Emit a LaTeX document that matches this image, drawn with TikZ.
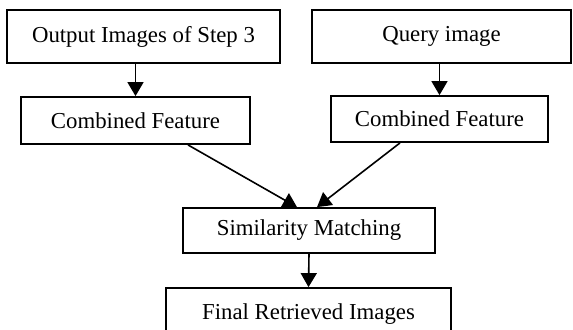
\documentclass[tikz,border=0pt]{standalone}
\usepackage{fontspec}
\setmainfont{Liberation Serif}
\usetikzlibrary{arrows.meta}
\begin{document}
\begin{tikzpicture}[x=0.5pt,y=-0.5pt,
    stepbox/.style={draw,line width=0.9pt,inner sep=0pt,align=center,
        font=\fontsize{11.4}{13}\selectfont},
    flow/.style={line width=0.8pt,-{Triangle[length=7pt,width=8pt]}}]
    % Marco
    \useasboundingbox (0,0) rectangle (573,329);
    % Cajas
    \node[stepbox,minimum width=136.5pt,minimum height=26.5pt] (out) at (143.5,36.5) {Output Images of Step 3};
    \node[stepbox,minimum width=129.5pt,minimum height=26.5pt] (query) at (441.5,36.5) {Query image};
    \node[stepbox,minimum width=114.5pt,minimum height=23.5pt] (featL) at (135.5,120.5) {Combined Feature};
    \node[stepbox,minimum width=108.5pt,minimum height=23pt] (featR) at (439.5,119) {Combined Feature};
    \node[stepbox,minimum width=126pt,minimum height=22.5pt] (match) at (309,230.5) {Similarity Matching};
    \node[stepbox,minimum width=142.5pt,minimum height=26pt] (final) at (308.5,314) {Final Retrieved Images};
    % Flechas
    \draw[flow] (out.south -| featL.north) -- (featL.north);
    \draw[flow] (query.south -| featR.north) -- (featR.north);
    \draw[flow] ([xshift=26.25pt]featL.south) -- ([xshift=-6pt]match.north);
    \draw[flow] ([xshift=-19.75pt]featR.south) -- ([xshift=4pt]match.north);
    \draw[flow] (match.south) -- (final.north);
\end{tikzpicture}
\end{document}
